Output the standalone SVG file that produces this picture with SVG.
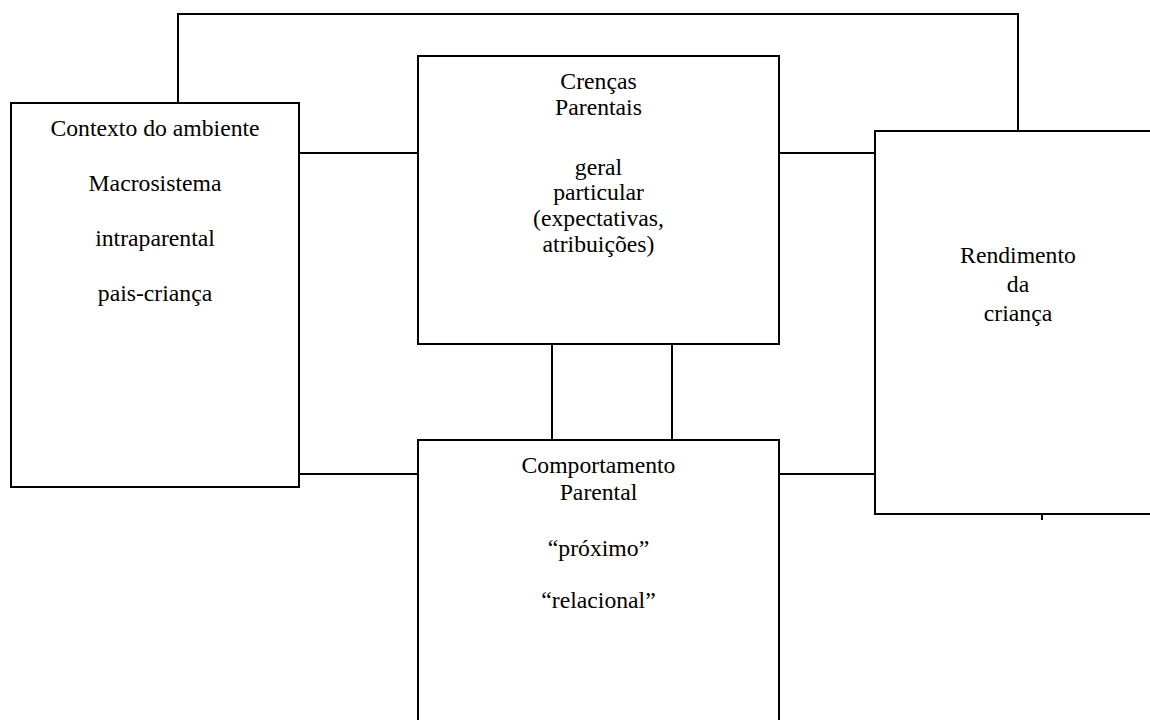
<svg xmlns="http://www.w3.org/2000/svg" width="1150" height="720" viewBox="0 0 1150 720">
<style>
.box{fill:#fff;stroke:#000;stroke-width:2}
.ln{fill:none;stroke:#000;stroke-width:2}
.t{font-family:"Liberation Serif","Times New Roman",Times,"DejaVu Serif",serif;font-size:23.7px;fill:#000;text-anchor:middle}
</style>
<rect width="1150" height="720" fill="#fff"/>
<g id="connectors">
<path class="ln" d="M178,103 V14 H1018 V131"/>
<path class="ln" d="M299,153 H418"/>
<path class="ln" d="M779,153 H875"/>
<path class="ln" d="M299,474 H418"/>
<path class="ln" d="M779,474 H875"/>
<path class="ln" d="M552,344 V440"/>
<path class="ln" d="M672,344 V440"/>
<path class="ln" d="M1042,514 V520"/>
</g>
<g id="contexto" class="t" font-family="Liberation Serif, serif">
<rect class="box" x="11" y="103" width="288" height="384"/>
<text x="155" y="136">Contexto do ambiente</text>
<text x="155" y="191">Macrosistema</text>
<text x="155" y="246">intraparental</text>
<text x="155" y="301">pais-criança</text>
</g>
<g id="crencas" class="t" font-family="Liberation Serif, serif">
<rect class="box" x="418" y="56" width="361" height="288"/>
<text x="598.5" y="89">Crenças</text>
<text x="598.5" y="115">Parentais</text>
<text x="598.5" y="175">geral</text>
<text x="598.5" y="200">particular</text>
<text x="598.5" y="226">(expectativas,</text>
<text x="598.5" y="252">atribuições)</text>
</g>
<g id="comportamento" class="t" font-family="Liberation Serif, serif">
<rect class="box" x="418" y="440" width="361" height="300"/>
<text x="598.5" y="473">Comportamento</text>
<text x="598.5" y="500">Parental</text>
<text x="598.5" y="556">“próximo”</text>
<text x="598.5" y="608">“relacional”</text>
</g>
<g id="rendimento" class="t" font-family="Liberation Serif, serif">
<rect class="box" x="875" y="131" width="290" height="383"/>
<text x="1018" y="263">Rendimento</text>
<text x="1018" y="292">da</text>
<text x="1018" y="321">criança</text>
</g>
</svg>
